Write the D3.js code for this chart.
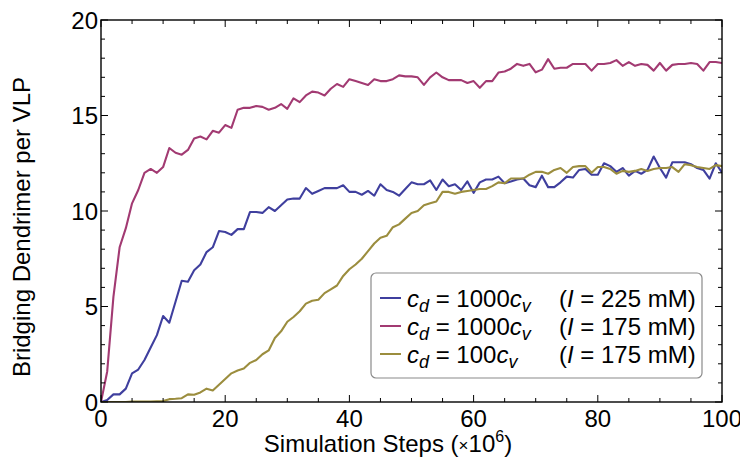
<!DOCTYPE html>
<html>
<head>
<meta charset="utf-8">
<script src="https://cdn.jsdelivr.net/npm/d3@7"></script>
<style>
  html, body { margin: 0; padding: 0; background: #fff; }
  svg { display: block; font-family: "Liberation Sans", Arial, sans-serif; }
</style>
</head>
<body>
<svg id="chart" width="740" height="466"></svg>
<script>
// ---------- data ----------
const steps = d3.range(0, 101); // simulation steps (x10^6)

const blueValues = [
  0, 0.1, 0.4, 0.4, 0.7, 1.5, 1.7, 2.2, 2.85, 3.5,
  4.5, 4.15, 5.25, 6.35, 6.3, 6.9, 7.2, 7.85, 8.1, 8.95,
  8.9, 8.75, 9.05, 9.05, 9.95, 9.95, 9.9, 10.2, 10.0, 10.3,
  10.6, 10.65, 10.65, 11.2, 10.9, 11.05, 11.2, 11.2, 11.2, 11.35,
  11.0, 11.0, 10.85, 11.05, 10.8, 11.4, 11.1, 11.0, 10.8, 11.15,
  11.5, 11.4, 11.4, 11.6, 11.1, 11.65, 11.3, 11.4, 11.1, 11.55,
  10.95, 11.5, 11.65, 11.65, 11.8, 11.45, 11.55, 11.65, 11.7, 11.35,
  11.25, 11.85, 11.25, 11.25, 11.5, 11.8, 11.75, 12.15, 12.2, 11.9,
  11.9, 12.5, 12.35, 12.05, 12.25, 11.85, 12.1, 11.95, 12.15, 12.85,
  12.25, 11.75, 12.55, 12.55, 12.55, 12.45, 12.25, 12.15, 11.7, 12.5,
  12.0
];

const magentaValues = [
  0, 1.6, 5.5, 8.1, 9.1, 10.4, 11.1, 12.0, 12.2, 12.0,
  12.3, 13.3, 13.05, 12.95, 13.2, 13.8, 13.9, 13.75, 14.2, 14.1,
  14.5, 14.35, 15.3, 15.4, 15.4, 15.5, 15.45, 15.3, 15.4, 15.6,
  15.35, 15.9, 15.7, 16.05, 16.25, 16.2, 16.05, 16.4, 16.65, 16.5,
  16.9, 16.8, 16.7, 16.6, 16.9, 16.8, 16.8, 16.9, 17.1, 17.05,
  17.05, 17.0, 16.6, 17.0, 17.25, 17.0, 16.85, 16.85, 16.85, 16.7,
  16.8, 16.45, 16.8, 16.8, 17.25, 17.3, 17.45, 17.7, 17.6, 17.7,
  17.26, 17.4, 17.95, 17.45, 17.5, 17.5, 17.7, 17.7, 17.7, 17.35,
  17.7, 17.7, 17.75, 17.9, 17.6, 17.8, 17.6, 17.7, 17.65, 17.35,
  17.75, 17.35, 17.65, 17.7, 17.7, 17.75, 17.7, 17.35, 17.8, 17.8,
  17.75
];

const oliveValues = [
  0, 0, 0, 0, 0, 0.02, 0.02, 0.03, 0.03, 0.04,
  0.05, 0.15, 0.17, 0.2, 0.4, 0.38, 0.5, 0.7, 0.6, 0.9,
  1.2, 1.5, 1.65, 1.75, 2.05, 2.2, 2.5, 2.7, 3.35, 3.7,
  4.2, 4.45, 4.75, 5.15, 5.3, 5.35, 5.7, 5.9, 6.1, 6.6,
  6.95, 7.2, 7.5, 7.9, 8.3, 8.6, 8.7, 9.15, 9.3, 9.6,
  9.9, 10.0, 10.3, 10.4, 10.5, 11.0, 11.0, 10.9, 11.0, 11.05,
  11.1, 11.15, 11.15, 11.3, 11.5, 11.45, 11.7, 11.7, 11.7, 11.9,
  12.05, 12.05, 11.95, 12.15, 12.25, 12.0, 12.3, 12.35, 12.35, 12.0,
  12.3, 12.3, 12.2, 11.95, 12.1, 12.05, 12.1, 12.2, 12.1, 12.2,
  12.25, 12.25, 12.3, 12.05, 12.45, 12.4, 12.3, 12.25, 12.2, 12.4,
  12.35
];

const seriesColors = ["#3f3f9e", "#a23a72", "#9b8d3e"];
const cdFactors = ["1000", "1000", "100"];
const ionicStrengths = ["225", "175", "175"];

const xTickValues = [0, 20, 40, 60, 80, 100];
const yTickValues = [0, 5, 10, 15, 20];
const xLabel = "Simulation Steps (";
const yLabel = "Bridging Dendrimer per VLP";

// ---------- layout ----------
const svg = d3.select("#chart");
const L = 101, R = 722, T = 20, B = 402;
const x = d3.scaleLinear().domain([0, 100]).range([L, R]);
const y = d3.scaleLinear().domain([0, 20]).range([B, T]);
const fontSize = 24;

// series lines
const seriesList = [
  { values: blueValues, color: seriesColors[0] },
  { values: magentaValues, color: seriesColors[1] },
  { values: oliveValues, color: seriesColors[2] }
];
const line = d3.line().x((d, i) => x(steps[i])).y(d => y(d));
svg.append("clipPath").attr("id", "plotclip")
  .append("rect").attr("x", L).attr("y", T - 2).attr("width", R - L).attr("height", B - T + 2);

const gLines = svg.append("g").attr("clip-path", "url(#plotclip)");
seriesList.forEach(s => {
  gLines.append("path")
    .datum(s.values)
    .attr("d", line)
    .attr("fill", "none")
    .attr("stroke", s.color)
    .attr("stroke-width", 2.1)
    .attr("stroke-linejoin", "round");
});

// ticks (inward on all sides)
const xMinor = d3.range(0, 101, 5).filter(v => v % 20 !== 0);
const yMinor = d3.range(0, 21, 1).filter(v => v % 5 !== 0);

function hTicks(g, vals, yPos, dir, len) {
  g.selectAll(null).data(vals).join("line")
    .attr("x1", d => x(d)).attr("x2", d => x(d))
    .attr("y1", yPos).attr("y2", yPos + dir * len)
    .attr("stroke", "#000").attr("stroke-width", 1);
}
function vTicks(g, vals, xPos, dir, len) {
  g.selectAll(null).data(vals).join("line")
    .attr("x1", xPos).attr("x2", xPos + dir * len)
    .attr("y1", d => y(d)).attr("y2", d => y(d))
    .attr("stroke", "#000").attr("stroke-width", 1);
}
const gAx = svg.append("g");
hTicks(gAx.append("g"), xTickValues, B, -1, 7);
hTicks(gAx.append("g"), xMinor, B, -1, 4);
hTicks(gAx.append("g"), xTickValues, T, 1, 7);
hTicks(gAx.append("g"), xMinor, T, 1, 4);
vTicks(gAx.append("g"), yTickValues, L, 1, 7);
vTicks(gAx.append("g"), yMinor, L, 1, 4);
vTicks(gAx.append("g"), yTickValues, R, -1, 7);
vTicks(gAx.append("g"), yMinor, R, -1, 4);

gAx.append("g").selectAll("text").data(xTickValues).join("text")
  .attr("x", d => x(d)).attr("y", B + 25)
  .attr("text-anchor", "middle").attr("font-size", fontSize)
  .text(d => d3.format("d")(d));
gAx.append("g").selectAll("text").data(yTickValues).join("text")
  .attr("x", L - 3).attr("y", d => y(d) + 8.5)
  .attr("text-anchor", "end").attr("font-size", fontSize)
  .text(d => d);

// frame
svg.append("rect").attr("x", L).attr("y", T).attr("width", R - L).attr("height", B - T)
  .attr("fill", "none").attr("stroke", "#000").attr("stroke-width", 1.4);

// axis titles
const xt = svg.append("text").attr("x", 388).attr("y", 452)
  .attr("text-anchor", "middle").attr("font-size", fontSize);
xt.append("tspan").text(xLabel);
xt.append("tspan").attr("font-size", 17).attr("dy", -1).text("×");
xt.append("tspan").attr("dy", 1).text("10");
xt.append("tspan").attr("font-size", 16).attr("dy", -10).text("6");
xt.append("tspan").attr("dy", 10).text(")");

svg.append("text")
  .attr("transform", `translate(30,${(T + B) / 2 + 16}) rotate(-90)`)
  .attr("text-anchor", "middle").attr("font-size", fontSize)
  .text(yLabel);

// legend
const lg = svg.append("g");
lg.append("rect").attr("x", 371).attr("y", 273).attr("width", 331).attr("height", 105)
  .attr("rx", 5).attr("ry", 5)
  .attr("fill", "#fff").attr("stroke", "#8a8a8a").attr("stroke-width", 1.2);

const rowY = [298, 326, 354];
seriesList.forEach((s, i) => {
  lg.append("line")
    .attr("x1", 380).attr("x2", 401).attr("y1", rowY[i]).attr("y2", rowY[i])
    .attr("stroke", s.color).attr("stroke-width", 2);
  const t = lg.append("text").attr("x", 407).attr("y", rowY[i] + 9).attr("font-size", fontSize);
  t.append("tspan").attr("font-style", "italic").text("c");
  t.append("tspan").attr("font-style", "italic").attr("font-size", 18).attr("dy", 5).text("d");
  t.append("tspan").attr("dy", -5).text(" = " + cdFactors[i]);
  t.append("tspan").attr("font-style", "italic").text("c");
  t.append("tspan").attr("font-style", "italic").attr("font-size", 18).attr("dy", 5).text("v");
  const t2 = lg.append("text").attr("x", 559).attr("y", rowY[i] + 9).attr("font-size", fontSize);
  t2.append("tspan").text("(");
  t2.append("tspan").attr("font-style", "italic").text("I");
  t2.append("tspan").text(" = " + ionicStrengths[i] + " mM)");
});
</script>
</body>
</html>
